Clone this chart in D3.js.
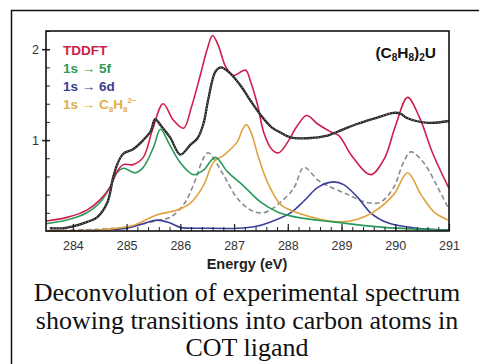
<!DOCTYPE html>
<html>
<head>
<meta charset="UTF-8">
<style>
    body { margin: 0; background: #fff; }
    svg { display: block; }
    .tick text { font-family: "Liberation Sans", Arial, sans-serif; font-size: 12.5px; fill: #333; }
</style>
</head>
<body>
<svg width="479" height="364"></svg>
<script src="https://d3js.org/d3.v7.min.js"></script>
<script>
    // data: [energy eV, intensity]
    const expData = [[283.57,0.03],[283.8,0.03],[284.0,0.05],[284.27,0.1],[284.45,0.15],[284.64,0.31],[284.75,0.59],[284.83,0.74],[284.94,0.85],[285.12,0.9],[285.31,1.0],[285.45,1.1],[285.53,1.23],[285.65,1.15],[285.81,1.03],[286.0,0.84],[286.19,0.95],[286.32,1.02],[286.43,1.18],[286.52,1.45],[286.65,1.75],[286.75,1.8],[286.9,1.75],[287.12,1.6],[287.31,1.43],[287.49,1.28],[287.7,1.14],[287.87,1.08],[288.05,1.03],[288.37,1.02],[288.74,1.05],[289.0,1.11],[289.3,1.18],[289.68,1.25],[289.97,1.3],[290.1,1.29],[290.23,1.24],[290.61,1.19],[291.0,1.21]];
    const tddft = [[283.5,0.11],[283.89,0.15],[284.26,0.23],[284.5,0.34],[284.69,0.48],[284.82,0.65],[284.94,0.73],[285.12,0.73],[285.31,0.81],[285.48,1.11],[285.68,1.4],[285.87,1.22],[286.06,1.13],[286.2,1.35],[286.37,1.71],[286.5,2.0],[286.6,2.15],[286.7,2.05],[286.85,1.8],[286.99,1.71],[287.21,1.77],[287.31,1.64],[287.44,1.38],[287.55,1.09],[287.7,0.9],[287.83,0.86],[288.0,0.98],[288.18,1.16],[288.35,1.27],[288.55,1.18],[288.8,1.09],[288.95,1.05],[289.2,0.82],[289.54,0.62],[289.8,0.8],[290.0,1.15],[290.23,1.47],[290.45,1.25],[290.7,0.85],[291.0,0.47]];
    const to5f = [[283.5,0.08],[283.89,0.12],[284.26,0.2],[284.5,0.31],[284.69,0.48],[284.82,0.64],[284.94,0.69],[285.16,0.64],[285.31,0.7],[285.5,0.92],[285.63,1.12],[285.8,0.95],[286.0,0.75],[286.24,0.62],[286.43,0.67],[286.65,0.81],[286.88,0.65],[287.17,0.5],[287.49,0.32],[287.81,0.21],[288.18,0.15],[288.85,0.1],[289.79,0.04],[291.0,0.01]];
    const to6d = [[283.5,0.0],[284.5,0.01],[285.0,0.03],[285.25,0.07],[285.57,0.12],[285.8,0.09],[286.0,0.04],[286.5,0.03],[287.06,0.03],[287.4,0.05],[287.68,0.1],[288.05,0.2],[288.3,0.33],[288.56,0.48],[288.85,0.54],[289.04,0.51],[289.3,0.37],[289.54,0.2],[289.86,0.09],[290.4,0.03],[291.0,0.01]];
    const toCOT = [[283.5,0.0],[284.5,0.01],[284.8,0.03],[285.12,0.06],[285.57,0.18],[285.94,0.23],[286.19,0.31],[286.43,0.5],[286.62,0.76],[286.8,0.83],[287.06,0.98],[287.16,1.12],[287.23,1.17],[287.32,1.08],[287.44,0.84],[287.62,0.54],[287.87,0.29],[288.18,0.2],[288.6,0.13],[288.99,0.1],[289.3,0.13],[289.6,0.21],[289.97,0.4],[290.23,0.64],[290.48,0.4],[290.72,0.21],[290.98,0.12]];
    const dashedComp = [[283.5,0.0],[284.5,0.02],[285.0,0.04],[285.25,0.07],[285.6,0.12],[285.81,0.15],[286.06,0.29],[286.24,0.5],[286.43,0.8],[286.52,0.86],[286.8,0.62],[287.06,0.36],[287.31,0.23],[287.55,0.2],[287.81,0.29],[288.11,0.47],[288.3,0.7],[288.56,0.56],[288.74,0.5],[289.12,0.4],[289.49,0.31],[289.73,0.32],[289.97,0.48],[290.15,0.75],[290.29,0.87],[290.53,0.75],[290.79,0.48],[290.98,0.26]];

    const xTicks = [284, 285, 286, 287, 288, 289, 290, 291];
    const yTicks = [1, 2];
    const legendLabels = ["TDDFT", "1s \u2192 5f", "1s \u2192 6d", "1s \u2192 C"];
    const legendColors = ["#cc1f48", "#2f9a55", "#3b3d8e", "#e3ad4a"];

    const svg = d3.select("svg");
    const mLeft = 46, mRight = 449, mTop = 31, mBottom = 231;

    // outer frame
    svg.append("path")
        .attr("d", "M11.5,364 V10.5 H479")
        .attr("fill", "none")
        .attr("stroke", "#111")
        .attr("stroke-width", 1.5);

    let x = d3.scaleLinear().domain([283.5, 291]).range([mLeft, mRight]);
    let y = d3.scaleLinear().domain([0, 2.2]).range([mBottom, mTop]);

    let line = d3.line()
        .x(d => x(d[0]))
        .y(d => y(d[1]))
        .curve(d3.curveCatmullRom.alpha(0.5));

    let plot = svg.append("g");

    plot.append("path").datum(dashedComp)
        .attr("d", line).attr("fill", "none")
        .attr("stroke", "#8a8a8e").attr("stroke-width", 1.6)
        .attr("stroke-dasharray", "5,3");
    plot.append("path").datum(to6d)
        .attr("d", line).attr("fill", "none")
        .attr("stroke", "#3b3f98").attr("stroke-width", 1.6);
    plot.append("path").datum(toCOT)
        .attr("d", line).attr("fill", "none")
        .attr("stroke", "#e0a23c").attr("stroke-width", 1.6);
    plot.append("path").datum(to5f)
        .attr("d", line).attr("fill", "none")
        .attr("stroke", "#2a9a5c").attr("stroke-width", 1.6);
    plot.append("path").datum(tddft)
        .attr("d", line).attr("fill", "none")
        .attr("stroke", "#d01e4c").attr("stroke-width", 1.6);

    // experimental spectrum: beaded black line
    plot.append("path").datum(expData)
        .attr("d", line).attr("fill", "none")
        .attr("stroke", "#222").attr("stroke-width", 2.3);
    plot.append("path").datum(expData)
        .attr("d", line).attr("fill", "none")
        .attr("stroke", "#aaa").attr("stroke-width", 0.9)
        .attr("stroke-dasharray", "1,2");

    // axes
    let xMinor = d3.range(285, 291.01, 0.2);
    let yMinor = d3.range(0.2, 2.21, 0.2);

    svg.append("g")
        .attr("transform", "translate(0," + mBottom + ")")
        .call(d3.axisBottom(x).tickValues(xMinor).tickSize(-4).tickFormat(""))
        .call(g => g.select(".domain").remove())
        .call(g => g.selectAll("line").attr("stroke", "#222"));

    svg.append("g")
        .attr("transform", "translate(0," + mBottom + ")")
        .call(d3.axisBottom(x).tickValues(xTicks).tickSize(-7).tickPadding(10).tickFormat(d3.format("d")))
        .call(g => g.select(".domain").remove())
        .call(g => g.selectAll("line").attr("stroke", "#222").attr("stroke-width", 1.2));

    svg.append("g")
        .attr("transform", "translate(" + mLeft + ",0)")
        .call(d3.axisLeft(y).tickValues(yMinor).tickSize(-4).tickFormat(""))
        .call(g => g.select(".domain").remove())
        .call(g => g.selectAll("line").attr("stroke", "#222"));

    svg.append("g")
        .attr("transform", "translate(" + mLeft + ",0)")
        .call(d3.axisLeft(y).tickValues(yTicks).tickSize(5).tickPadding(2).tickFormat(d3.format("d")))
        .call(g => g.select(".domain").remove())
        .call(g => g.selectAll("line").attr("stroke", "#222").attr("stroke-width", 1.5).attr("x2", -4).attr("x1", 4));

    // plot frame
    svg.append("rect")
        .attr("x", mLeft).attr("y", mTop)
        .attr("width", mRight - mLeft).attr("height", mBottom - mTop)
        .attr("fill", "none").attr("stroke", "#111").attr("stroke-width", 1.6);

    // legend
    let legend = svg.append("g")
        .attr("font-family", "Liberation Sans, Arial, sans-serif")
        .attr("font-weight", "bold")
        .attr("font-size", 13.5);
    legendLabels.forEach((t, i) => {
        let txt = legend.append("text")
            .attr("x", 63).attr("y", 55 + i * 18)
            .attr("fill", legendColors[i])
            .text(t);
        if (i === 3) {
            txt.append("tspan").attr("font-size", 8).attr("dy", 3).text("8");
            txt.append("tspan").attr("dy", -3).text("H");
            txt.append("tspan").attr("font-size", 8).attr("dy", 3).text("8");
            txt.append("tspan").attr("font-size", 8).attr("dy", -9).text("2\u2212");
        }
    });

    // compound label
    let comp = svg.append("text")
        .attr("x", 436).attr("y", 58)
        .attr("text-anchor", "end")
        .attr("font-family", "Liberation Sans, Arial, sans-serif")
        .attr("font-weight", "bold").attr("font-size", 15.5)
        .attr("fill", "#111");
    comp.append("tspan").text("(C");
    comp.append("tspan").attr("font-size", 10).attr("dy", 3).text("8");
    comp.append("tspan").attr("dy", -3).text("H");
    comp.append("tspan").attr("font-size", 10).attr("dy", 3).text("8");
    comp.append("tspan").attr("dy", -3).text(")");
    comp.append("tspan").attr("font-size", 10).attr("dy", 3).text("2");
    comp.append("tspan").attr("dy", -3).text("U");

    // axis title
    svg.append("text")
        .attr("x", 247).attr("y", 269)
        .attr("text-anchor", "middle")
        .attr("font-family", "Liberation Sans, Arial, sans-serif")
        .attr("font-weight", "bold").attr("font-size", 14.5)
        .attr("fill", "#222")
        .text("Energy (eV)");

    // caption
    const caption = ["Deconvolution of experimental spectrum", "showing transitions into carbon atoms in", "COT ligand"];
    svg.append("g")
        .attr("font-family", "Liberation Serif, Times New Roman, serif")
        .attr("font-size", 26)
        .attr("fill", "#111")
        .attr("text-anchor", "middle")
        .selectAll("text")
        .data(caption)
        .enter()
        .append("text")
        .attr("x", 247)
        .attr("y", (d, i) => 301 + i * 27.5)
        .text(d => d);
</script>
</body>
</html>
